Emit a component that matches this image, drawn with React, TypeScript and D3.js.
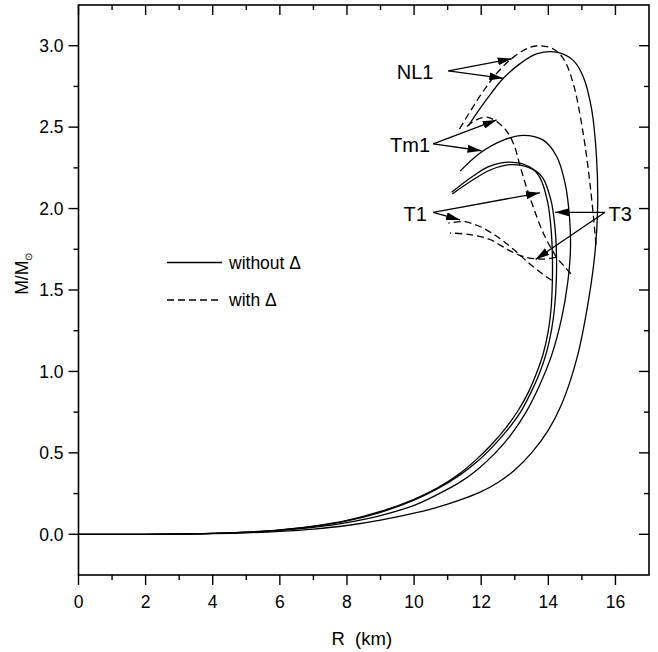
import React from "react";
import * as d3 from "d3";

type Pt = [number, number]; // [R (km), M (M_sun)]

// Sequences without Δ resonances (solid)
const nl1Without: Pt[] = [
  [0, 0], [2, 0], [3, 0.001], [4, 0.004], [5, 0.009], [6, 0.018], [7, 0.032], [8, 0.054],
  [9, 0.087], [10, 0.13], [10.5, 0.155], [11, 0.185], [11.5, 0.22], [12, 0.262], [12.5, 0.318],
  [13, 0.395], [13.5, 0.5], [14, 0.64], [14.4, 0.8], [14.85, 1.08], [15.2, 1.44], [15.4, 1.75],
  [15.47, 2.01], [15.44, 2.3], [15.29, 2.61], [15.04, 2.81], [14.74, 2.91], [14.25, 2.96],
  [13.65, 2.95], [13.16, 2.89], [12.66, 2.8], [12.16, 2.67], [11.62, 2.51],
];
const tm1Without: Pt[] = [
  [0, 0], [2, 0], [3, 0.001], [4, 0.005], [5, 0.012], [6, 0.024], [7, 0.043], [8, 0.072],
  [9, 0.115], [10, 0.178], [10.7, 0.245], [11.37, 0.32], [11.9, 0.4], [12.4, 0.495], [12.9, 0.615],
  [13.35, 0.755], [13.75, 0.92], [14.1, 1.1], [14.4, 1.33], [14.58, 1.55], [14.66, 1.75],
  [14.63, 1.95], [14.5, 2.155], [14.25, 2.32], [13.85, 2.42], [13.25, 2.45], [12.66, 2.42],
  [11.96, 2.34], [11.37, 2.23],
];
const t1Without: Pt[] = [
  [0, 0], [2, 0], [3, 0.001], [4, 0.005], [5, 0.013], [6, 0.027], [7, 0.05], [8, 0.085],
  [9, 0.14], [10, 0.215], [10.7, 0.285], [11.37, 0.375], [11.86, 0.46], [12.3, 0.55],
  [12.76, 0.66], [13.1, 0.76], [13.4, 0.87], [13.65, 0.99], [13.85, 1.11], [14.0, 1.25],
  [14.08, 1.38], [14.12, 1.55], [14.12, 1.72], [14.08, 1.88], [13.98, 2.04], [13.75, 2.19],
  [13.45, 2.255], [12.86, 2.285], [12.26, 2.26], [11.76, 2.2], [11.12, 2.1],
];
const t3Without: Pt[] = [
  [0, 0], [2, 0], [3, 0.001], [4, 0.005], [5, 0.013], [6, 0.026], [7, 0.048], [8, 0.082],
  [9, 0.135], [10, 0.21], [10.7, 0.28], [11.37, 0.365], [11.9, 0.45], [12.35, 0.54],
  [12.82, 0.65], [13.17, 0.75], [13.48, 0.87], [13.74, 0.99], [13.95, 1.12], [14.1, 1.26],
  [14.19, 1.4], [14.24, 1.57], [14.24, 1.74], [14.19, 1.9], [14.08, 2.05], [13.83, 2.19],
  [13.5, 2.245], [12.88, 2.27], [12.3, 2.24], [11.78, 2.18], [11.14, 2.09],
];

// Sequences with Δ resonances (dashed), branching off the solid ones
const nl1With: Pt[] = [
  [15.42, 1.78], [15.39, 1.85], [15.24, 2.155], [15.04, 2.46], [14.74, 2.77], [14.45, 2.92],
  [14.15, 2.98], [13.75, 3.0], [13.45, 2.99], [12.96, 2.93], [12.46, 2.83], [11.96, 2.69],
  [11.3, 2.47],
];
const tm1With: Pt[] = [
  [14.67, 1.6], [14.5, 1.64], [14.25, 1.7], [13.85, 1.85], [13.55, 2.01], [13.35, 2.13],
  [13.16, 2.26], [12.96, 2.4], [12.66, 2.5], [12.2, 2.56], [11.85, 2.545], [11.55, 2.5],
];
const t1With: Pt[] = [
  [14.1, 1.56], [13.95, 1.58], [13.45, 1.66], [12.96, 1.75], [12.46, 1.83], [11.96, 1.89],
  [11.47, 1.92], [11.02, 1.91],
];
const t3With: Pt[] = [
  [14.23, 1.7], [13.85, 1.69], [13.35, 1.7], [12.86, 1.74], [12.26, 1.81], [11.66, 1.84],
  [11.07, 1.85],
];

// Curve labels and their pointer arrows: label position, arrow origin, arrow tips
const labelNames = ["NL1", "Tm1", "T1", "T3"];
const labelAt: Pt[] = [[10.03, 2.84], [9.88, 2.39], [10.03, 1.97], [16.14, 1.97]];
const arrowFrom: Pt[] = [[11.02, 2.846], [10.57, 2.397], [10.57, 1.977], [15.69, 1.977]];
const arrowTips: Pt[][] = [
  [[12.91, 2.92], [12.66, 2.8]],
  [[12.46, 2.544], [12.01, 2.355]],
  [[13.75, 2.097], [11.37, 1.93]],
  [[14.2, 1.977], [13.62, 1.688]],
];

const xMajor = [0, 2, 4, 6, 8, 10, 12, 14, 16];
const xMinor = [1, 3, 5, 7, 9, 11, 13, 15];
const yMajor = [0, 0.5, 1, 1.5, 2, 2.5, 3];
const yMinor = [0.25, 0.75, 1.25, 1.75, 2.25, 2.75];

const W = 658;
const H = 652;
const L = 78.5, R = 649, T = 5, B = 575;
const FONT = "'Liberation Sans', Arial, sans-serif";

export default function App() {
  const x = d3.scaleLinear().domain([0, 17]).range([L, R]);
  const y = d3.scaleLinear().domain([-0.25, 3.25]).range([B, T]);
  const line = d3
    .line<Pt>()
    .x((d) => x(d[0]))
    .y((d) => y(d[1]))
    .curve(d3.curveCatmullRom.alpha(0.5));

  const solid = [nl1Without, tm1Without, t1Without, t3Without];
  const dashed = [nl1With, tm1With, t1With, t3With];
  const major = 10, minor = 5;

  return (
    <svg
      width={W}
      height={H}
      style={{ position: "absolute", left: 0, top: 0, background: "#fff" }}
      fontFamily={FONT}
    >
      <defs>
        <marker id="head" viewBox="0 0 14 8" refX="14" refY="4" markerWidth="14" markerHeight="8"
          markerUnits="userSpaceOnUse" orient="auto">
          <path d="M0,0 L14,4 L0,8 Z" fill="#000" />
        </marker>
      </defs>

      {/* curves */}
      <g fill="none" stroke="#000" strokeWidth={1.3}>
        {solid.map((s, i) => <path key={"s" + i} d={line(s) || ""} />)}
        {dashed.map((s, i) => <path key={"d" + i} d={line(s) || ""} strokeDasharray="7,4" />)}
      </g>

      {/* frame */}
      <rect x={L} y={T} width={R - L} height={B - T} fill="none" stroke="#000" strokeWidth={1.6} />

      {/* ticks: outward on bottom/left, inward on top/right */}
      <g stroke="#000" strokeWidth={1.4}>
        {xMajor.map((v) => (
          <g key={"xM" + v}>
            <line x1={x(v)} x2={x(v)} y1={B} y2={B + major} />
            <line x1={x(v)} x2={x(v)} y1={T} y2={T + major} />
          </g>
        ))}
        {xMinor.map((v) => (
          <g key={"xm" + v}>
            <line x1={x(v)} x2={x(v)} y1={B} y2={B + minor} />
            <line x1={x(v)} x2={x(v)} y1={T} y2={T + minor} />
          </g>
        ))}
        {yMajor.map((v) => (
          <g key={"yM" + v}>
            <line x1={L} x2={L - major} y1={y(v)} y2={y(v)} />
            <line x1={R} x2={R - major} y1={y(v)} y2={y(v)} />
          </g>
        ))}
        {yMinor.map((v) => (
          <g key={"ym" + v}>
            <line x1={L} x2={L - minor} y1={y(v)} y2={y(v)} />
            <line x1={R} x2={R - minor} y1={y(v)} y2={y(v)} />
          </g>
        ))}
      </g>

      <g fontSize={17.5} fill="#000">
        {xMajor.map((v) => (
          <text key={"xl" + v} x={x(v)} y={B + 33} textAnchor="middle">{v}</text>
        ))}
        {yMajor.map((v) => (
          <text key={"yl" + v} x={L - 15} y={y(v)} dy="0.36em" textAnchor="end">{d3.format(".1f")(v)}</text>
        ))}
      </g>

      {/* axis titles */}
      <text x={(L + R) / 2 - 2} y={645} textAnchor="middle" fontSize={18.5} xmlSpace="preserve">R  (km)</text>
      <text transform={`translate(28,${y(1.6)}) rotate(-90)`} fontSize={17.5} textAnchor="middle">
        M/M<tspan fontSize={10} dy={4}>⊙</tspan>
      </text>

      {/* legend */}
      <line x1={167} x2={222} y1={262.5} y2={262.5} stroke="#000" strokeWidth={1.3} />
      <text x={229} y={262.5} dy="0.36em" fontSize={17.5}>without Δ</text>
      <line x1={167} x2={222} y1={300} y2={300} stroke="#000" strokeWidth={1.3} strokeDasharray="7,4" />
      <text x={229} y={300} dy="0.36em" fontSize={17.5}>with Δ</text>

      {/* curve annotations */}
      <g>
        {labelNames.map((n, i) => (
          <g key={n}>
            <text x={x(labelAt[i][0])} y={y(labelAt[i][1])} dy="0.36em" textAnchor="middle" fontSize={20}>{n}</text>
            {arrowTips[i].map((tip, j) => (
              <line key={j} x1={x(arrowFrom[i][0])} y1={y(arrowFrom[i][1])} x2={x(tip[0])} y2={y(tip[1])}
                stroke="#000" strokeWidth={1.3} markerEnd="url(#head)" />
            ))}
          </g>
        ))}
      </g>
    </svg>
  );
}
